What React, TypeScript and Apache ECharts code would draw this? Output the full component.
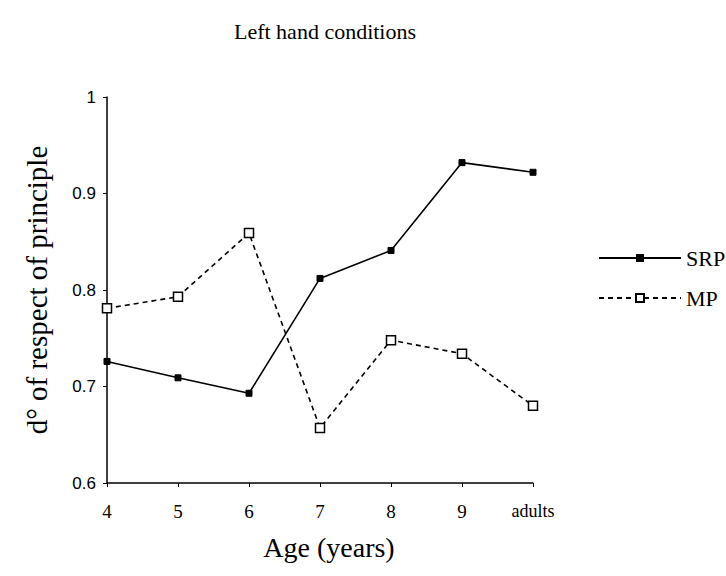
import React, { useEffect, useRef } from "react";
import * as echarts from "echarts";

const categories = ["4", "5", "6", "7", "8", "9", "adults"];
const srpValues = [0.726, 0.709, 0.693, 0.812, 0.841, 0.932, 0.922];
const mpValues = [0.781, 0.793, 0.859, 0.657, 0.748, 0.734, 0.68];
const yTicks = [0.6, 0.7, 0.8, 0.9, 1];

const FONT = "Liberation Serif, DejaVu Serif, serif";
const SANS = "Liberation Sans, Arial, sans-serif";

export default function App() {
  const ref = useRef<HTMLDivElement>(null);
  useEffect(() => {
    if (!ref.current) return;
    const chart = echarts.init(ref.current, undefined, { renderer: "svg" });
    chart.setOption({
      animation: false,
      backgroundColor: "#ffffff",
      textStyle: { fontFamily: FONT, color: "#000" },
      title: {
        text: "Left hand conditions",
        left: 320,
        textAlign: "center",
        top: 15,
        textStyle: { fontFamily: FONT, fontSize: 22, fontWeight: "normal", color: "#000" },
      },
      legend: {
        orient: "vertical",
        left: 593,
        top: 242,
        itemWidth: 82,
        itemHeight: 10,
        itemGap: 18,
        textStyle: { fontFamily: FONT, fontSize: 22, color: "#000" },
        data: ["SRP", "MP"],
      },
      grid: { left: 107, right: 193, top: 97, bottom: 93 },
      xAxis: {
        type: "category",
        data: categories,
        boundaryGap: false,
        name: "Age (years)",
        nameLocation: "middle",
        nameGap: 50,
        nameTextStyle: { fontFamily: FONT, fontSize: 28, color: "#000", padding: [0, 0, 0, 18] },
        axisLine: { lineStyle: { color: "#000", width: 1.5 } },
        axisTick: { show: true, inside: false, length: 4, interval: 0, lineStyle: { color: "#000" } },
        axisLabel: {
          interval: 0,
          fontFamily: FONT,
          fontSize: 19,
          color: "#000",
          margin: 19,
          formatter: (v: string) => (v === "adults" ? "{s|" + v + "}" : v),
          rich: { s: { fontFamily: FONT, fontSize: 18, color: "#000" } },
        },
        splitLine: { show: false },
      },
      yAxis: {
        type: "value",
        min: 0.6,
        max: 1,
        interval: 0.1,
        name: "d° of respect of principle",
        nameLocation: "middle",
        nameGap: 56,
        nameRotate: 90,
        nameTextStyle: { fontFamily: FONT, fontSize: 29, color: "#000" },
        axisLine: { show: true, lineStyle: { color: "#000", width: 1.5 } },
        axisTick: { show: true, inside: false, length: 4, lineStyle: { color: "#000" } },
        axisLabel: {
          fontFamily: SANS,
          fontSize: 17,
          color: "#000",
          margin: 11,
          formatter: (v: number) => {
            const t = yTicks.find((y) => Math.abs(y - v) < 1e-6);
            return t === undefined ? "" : String(t);
          },
        },
        splitLine: { show: false },
      },
      series: [
        {
          name: "SRP",
          type: "line",
          data: srpValues,
          symbol: "rect",
          symbolSize: 6,
          itemStyle: { color: "#000", borderColor: "#000" },
          lineStyle: { color: "#000", width: 1.6, type: "solid" },
        },
        {
          name: "MP",
          type: "line",
          data: mpValues,
          symbol: "rect",
          symbolSize: 9,
          itemStyle: { color: "#fff", borderColor: "#000", borderWidth: 1.5 },
          lineStyle: { color: "#000", width: 1.6, type: [5, 4] },
        },
      ],
    });
    return () => chart.dispose();
  }, []);
  return (
    <div
      ref={ref}
      style={{ position: "fixed", left: 0, top: 0, width: 726, height: 576 }}
    />
  );
}
